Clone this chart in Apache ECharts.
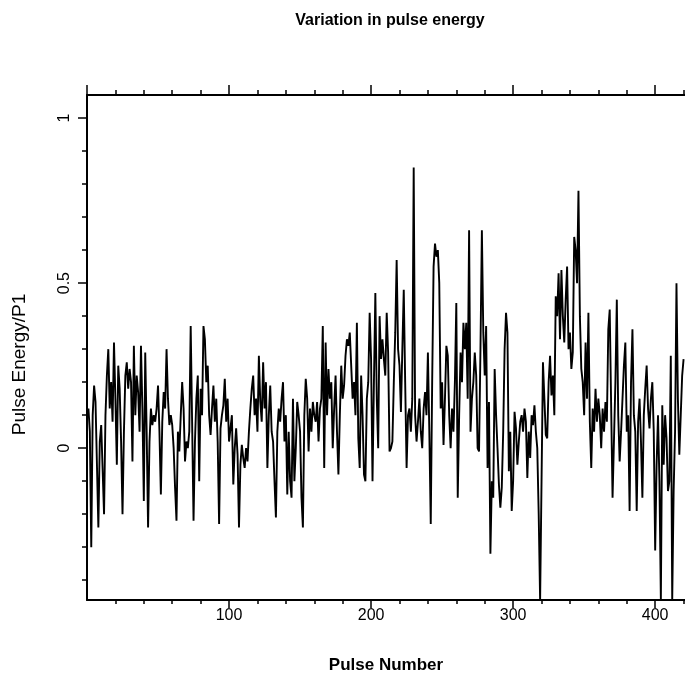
<!DOCTYPE html>
<html>
<head>
<meta charset="utf-8">
<script src="https://cdn.jsdelivr.net/npm/echarts@6/dist/echarts.min.js"></script>
<style>
html,body{margin:0;padding:0;background:#fff;}
#chart{width:685px;height:695px;}
</style>
</head>
<body>
<div id="chart"></div>
<script>
const chartTitle = "Variation in pulse energy";
const xTitle = "Pulse Number";
const yTitle = "Pulse Energy/P1";
const xTickLabels = [100, 200, 300, 400];
const yTickLabels = [0, 0.5, 1];
const energy = [
  0.12, 0.05, -0.30, 0.10, 0.19, 0.14, -0.05, -0.24, 0.02, 0.07,
  0.07, -0.20, 0.10, 0.22, 0.30, 0.12, 0.20, 0.08, 0.32, 0.15,
  -0.05, 0.25, 0.18, 0.02, -0.20, 0.05, 0.22, 0.26, 0.18, 0.24,
  0.20, -0.04, 0.31, 0.10, 0.22, 0.17, 0.05, 0.31, 0.12, -0.16,
  0.29, 0.05, -0.24, 0.02, 0.12, 0.07, 0.10, 0.08, 0.12, 0.19,
  0.05, -0.14, 0.08, 0.17, 0.12, 0.30, 0.15, 0.07, 0.10, 0.07,
  0.00, -0.12, -0.22, 0.05, -0.01, 0.10, 0.20, 0.12, -0.04, 0.02,
  0.00, 0.05, 0.37, 0.08, -0.22, 0.02, 0.15, 0.22, -0.10, 0.18,
  0.10, 0.37, 0.33, 0.20, 0.25, 0.10, 0.04, 0.12, 0.19, 0.08,
  0.15, 0.02, -0.23, 0.06, 0.10, 0.13, 0.21, 0.08, 0.15, 0.02,
  0.06, 0.10, -0.11, 0.00, 0.06, -0.02, -0.24, -0.05, 0.01, -0.03,
  -0.06, 0.00, -0.04, 0.05, 0.12, 0.18, 0.22, 0.10, 0.15, 0.05,
  0.28, 0.14, 0.08, 0.26, 0.12, 0.20, -0.06, 0.10, 0.19, 0.05,
  0.02, -0.10, -0.21, 0.05, 0.12, 0.08, 0.15, 0.20, 0.02, 0.10,
  -0.14, 0.05, -0.10, -0.15, 0.15, -0.10, 0.00, 0.14, 0.10, 0.05,
  -0.15, -0.24, 0.10, 0.21, 0.15, -0.01, 0.12, 0.05, 0.14, 0.10,
  0.08, 0.14, 0.02, 0.12, 0.15, 0.37, -0.06, 0.32, 0.10, 0.24,
  0.15, 0.20, 0.00, 0.12, 0.22, 0.05, -0.08, 0.10, 0.25, 0.15,
  0.19, 0.28, 0.33, 0.31, 0.35, 0.25, 0.15, 0.20, 0.10, 0.38,
  0.03, -0.06, 0.22, 0.10, -0.08, -0.10, 0.15, 0.20, 0.41, 0.27,
  -0.10, 0.20, 0.47, 0.15, 0.00, 0.40, 0.27, 0.33, 0.27, 0.22,
  0.41, 0.29, -0.01, 0.00, 0.02, 0.20, 0.35, 0.57, 0.30, 0.25,
  0.11, 0.30, 0.48, 0.20, -0.06, 0.10, 0.12, 0.05, 0.15, 0.85,
  0.10, 0.02, 0.08, 0.15, 0.05, 0.00, 0.12, 0.17, 0.10, 0.29,
  0.05, -0.23, 0.20, 0.55, 0.62, 0.58, 0.60, 0.50, 0.12, 0.20,
  0.01, 0.15, 0.31, 0.28, 0.10, 0.00, 0.12, 0.05, 0.20, 0.44,
  -0.15, 0.10, 0.29, 0.20, 0.38, 0.30, 0.38, 0.15, 0.66, 0.05,
  0.15, 0.20, 0.29, 0.22, 0.00, -0.01, 0.30, 0.66, 0.35, 0.22,
  0.37, -0.06, 0.14, -0.32, -0.10, -0.15, 0.24, 0.10, 0.00, -0.11,
  -0.18, -0.12, 0.05, 0.30, 0.41, 0.35, -0.07, 0.05, -0.19, -0.10,
  0.11, 0.06, -0.05, 0.02, 0.08, 0.10, 0.05, 0.12, 0.08, -0.09,
  0.05, -0.03, 0.10, 0.07, 0.13, 0.05, 0.00, -0.20, -0.46, -0.10,
  0.26, 0.15, 0.04, 0.03, 0.20, 0.28, 0.16, 0.22, 0.10, 0.46,
  0.40, 0.53, 0.33, 0.54, 0.40, 0.32, 0.45, 0.55, 0.30, 0.35,
  0.24, 0.29, 0.64, 0.60, 0.50, 0.78, 0.40, 0.24, 0.20, 0.10,
  0.32, 0.15, 0.41, 0.08, -0.06, 0.12, 0.05, 0.18, 0.08, 0.15,
  0.10, 0.00, 0.12, 0.05, 0.14, 0.08, 0.36, 0.42, 0.13, -0.15,
  -0.15, 0.20, 0.45, 0.10, -0.04, 0.05, 0.15, 0.25, 0.32, 0.05,
  0.10, -0.19, 0.20, 0.36, 0.10, 0.05, -0.19, 0.08, 0.15, 0.02,
  -0.15, 0.10, 0.18, 0.25, 0.12, 0.06, 0.15, 0.20, 0.05, -0.31,
  -0.05, 0.10, -0.10, -0.46, 0.13, -0.05, 0.10, 0.03, -0.13, -0.10,
  0.28, -0.46, -0.13, 0.05, 0.50, 0.15, -0.02, 0.10, 0.22, 0.27
];
const pulseNumbers = energy.map((_, i) => i + 1);
const seriesData = pulseNumbers.map((n, i) => [n, energy[i]]);

const minorX = []; for (let v = 20; v <= 420; v += 20) minorX.push(v);
const minorY = []; for (let k = -4; k <= 10; k++) minorY.push(+(k / 10).toFixed(1));

const font = "'Liberation Sans', Arial, sans-serif";
const chart = echarts.init(document.getElementById('chart'), null, {renderer: 'canvas'});
const X_MIN = 0, X_MAX = 421, Y_MIN = -0.46, Y_MAX = 1.07;
const axisBase = {
  type: 'value', scale: true, splitLine: {show: false}
};
chart.setOption({
  animation: false,
  backgroundColor: '#fff',
  title: {
    text: chartTitle, left: 385, top: 8, textAlign: 'center',
    textStyle: {fontFamily: font, fontSize: 16, fontWeight: 'bold', color: '#000'}
  },
  grid: {left: 87, top: 95, width: 598, height: 505, containLabel: false},
  xAxis: [
    Object.assign({}, axisBase, {
      position: 'bottom', min: X_MIN, max: X_MAX,
      axisLine: {show: true, onZero: false, lineStyle: {color: '#000', width: 2}},
      axisTick: {show: true, inside: false, length: 4, customValues: minorX, lineStyle: {color: '#000', width: 1.5}},
      axisLabel: {show: false}
    }),
    Object.assign({}, axisBase, {
      position: 'bottom', min: X_MIN, max: X_MAX,
      axisLine: {show: false, onZero: false},
      axisTick: {show: true, inside: false, length: 8, customValues: xTickLabels, lineStyle: {color: '#000', width: 1.5}},
      axisLabel: {show: true, customValues: xTickLabels, margin: 8, color: '#000', fontFamily: font, fontSize: 16},
      name: xTitle, nameLocation: 'middle', nameGap: 57,
      nameTextStyle: {fontFamily: font, fontSize: 17, fontWeight: 'bold', color: '#000'}
    }),
    Object.assign({}, axisBase, {
      position: 'top', min: X_MIN, max: X_MAX,
      axisLine: {show: true, onZero: false, lineStyle: {color: '#000', width: 2}},
      axisTick: {show: true, inside: false, length: 5, customValues: minorX, lineStyle: {color: '#000', width: 1.5}},
      axisLabel: {show: false}
    }),
    Object.assign({}, axisBase, {
      position: 'top', min: X_MIN, max: X_MAX,
      axisLine: {show: false, onZero: false},
      axisTick: {show: true, inside: false, length: 10, customValues: xTickLabels.concat([0]), lineStyle: {color: '#000', width: 1.5}},
      axisLabel: {show: false}
    })
  ],
  yAxis: [
    Object.assign({}, axisBase, {
      position: 'left', min: Y_MIN, max: Y_MAX,
      axisLine: {show: true, onZero: false, lineStyle: {color: '#000', width: 2}},
      axisTick: {show: true, inside: false, length: 5, customValues: minorY, lineStyle: {color: '#000', width: 1.5}},
      axisLabel: {show: false}
    }),
    Object.assign({}, axisBase, {
      position: 'left', min: Y_MIN, max: Y_MAX,
      axisLine: {show: false, onZero: false},
      axisTick: {show: true, inside: false, length: 9, customValues: yTickLabels, lineStyle: {color: '#000', width: 1.5}},
      axisLabel: {show: true, customValues: yTickLabels, rotate: 90, margin: 14, color: '#000', fontFamily: font, fontSize: 16},
      name: yTitle, nameLocation: 'middle', nameGap: 58, nameRotate: 90,
      nameTextStyle: {fontFamily: font, fontSize: 19, color: '#000', padding: [0, 0, 0, -34]}
    })
  ],
  series: [{
    type: 'line', xAxisIndex: 0, yAxisIndex: 0,
    data: seriesData, showSymbol: false, symbol: 'none',
    lineStyle: {color: '#000', width: 1.9}, clip: true
  }]
});
</script>
</body>
</html>
